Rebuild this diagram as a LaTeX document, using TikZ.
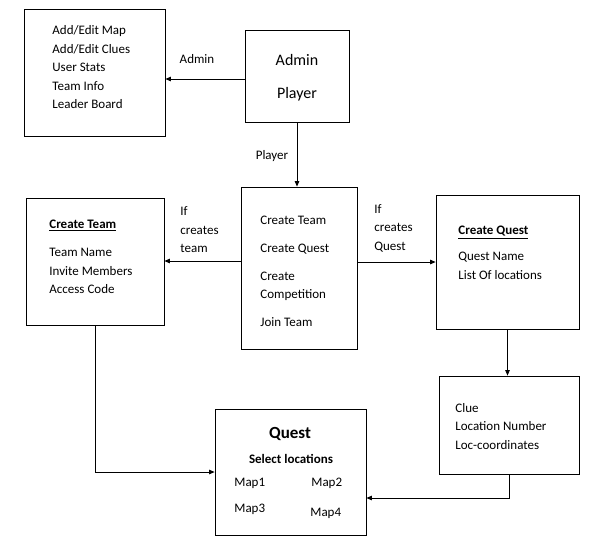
\documentclass[tikz,border=0pt]{standalone}
\usepackage{fontspec}
\setmainfont{Carlito}
\usetikzlibrary{arrows.meta}
\begin{document}
\begin{tikzpicture}[x=1pt,y=-1pt,line width=0.8pt,
    every node/.style={inner sep=0pt,font=\fontsize{13}{18.5}\selectfont},
    box/.style={draw,rectangle},
    txt/.style={anchor=west,align=left,yshift=-1.5pt},
    lbl/.style={yshift=-1.5pt},
    arr/.style={-{Triangle[length=5.5pt,width=4.5pt]}}]{
    \useasboundingbox (0,0) rectangle (591,542);
    \node [box,minimum width=141,minimum height=127] (admin) at (94.5,72.5) {};
    \node [box,minimum width=104,minimum height=92] (role) at (297,76) {};
    \node [box,minimum width=116,minimum height=162] (menu) at (299,268) {};
    \node [box,minimum width=138,minimum height=127] (team) at (95,261.5) {};
    \node [box,minimum width=143,minimum height=134] (cquest) at (507.5,262) {};
    \node [box,minimum width=140,minimum height=98] (clue) at (509,425) {};
    \node [box,minimum width=151,minimum height=126] (quest) at (290.5,472) {};
    \node [txt] (adminlist) at (52,66) {Add/Edit Map\\Add/Edit Clues\\User Stats\\Team Info\\Leader Board};
    \node [lbl,align=center,font=\fontsize{16}{33}\selectfont] (roletext) at (297,76) {Admin\\Player};
    \node [lbl] (adminlbl) at (197,58) {Admin};
    \node [lbl] (playerlbl) at (272,155) {Player};
    \node [txt] (menulist) at (260,269.5) {Create Team\\[9.5pt]Create Quest\\[9.5pt]Create\\Competition\\[9pt]Join Team};
    \node [txt] (teamif) at (180,228.5) {If\\creates\\team};
    \node [txt] (questif) at (374,226.5) {If\\creates\\Quest};
    \node [txt] (teamlist) at (49,255.5) {\textbf{\underline{Create Team}}\\[9.5pt]Team Name\\Invite Members\\Access Code};
    \node [txt] (cquestlist) at (458,251.5) {\textbf{\underline{Create Quest}}\\[7.5pt]Quest Name\\List Of locations};
    \node [txt] (cluelist) at (455,425) {Clue\\Location Number\\Loc-coordinates};
    \node [lbl,font=\fontsize{17}{20}\selectfont\bfseries] (questtitle) at (290,432) {Quest};
    \node [lbl,font=\fontsize{13}{16}\selectfont\bfseries] (select) at (291,457) {Select locations};
    \node [lbl,anchor=west] (map1) at (234,482) {Map1};
    \node [lbl,anchor=west] (map2) at (311,482) {Map2};
    \node [lbl,anchor=west] (map3) at (234,508) {Map3};
    \node [lbl,anchor=west] (map4) at (310,512) {Map4};
    \coordinate (adminy) at (0,79);
    \coordinate (teamy) at (0,261);
    \coordinate (questy) at (0,262);
    \coordinate (cluey) at (0,498);
    \draw [arr] (role.west |- adminy) -- (admin.east |- adminy);
    \draw [arr] (role.south) -- (role.south |- menu.north);
    \draw [arr] (menu.west |- teamy) -- (team.east |- teamy);
    \draw [arr] (menu.east |- questy) -- (cquest.west |- questy);
    \draw [arr] (cquest.south) -- (cquest.south |- clue.north);
    \draw [arr] (clue.south) |- (quest.east |- cluey);
    \draw [arr] (team.south) |- (quest.west);
    }
\end{tikzpicture}
\end{document}
